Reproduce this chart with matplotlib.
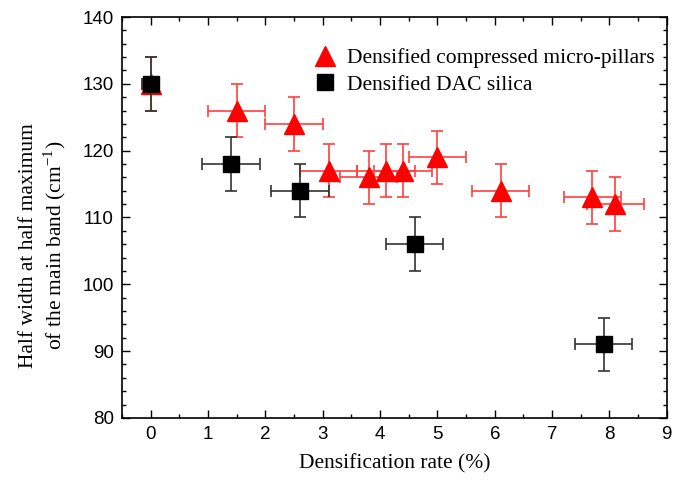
import matplotlib
matplotlib.use("Agg")
import matplotlib.pyplot as plt
from matplotlib.ticker import MultipleLocator

# Data
pillar_x = [0, 1.5, 2.5, 3.1, 3.8, 4.1, 4.4, 5.0, 6.1, 7.7, 8.1]
pillar_y = [130, 126, 124, 117, 116, 117, 117, 119, 114, 113, 112]
pillar_xerr = [0.15, 0.5, 0.5, 0.5, 0.5, 0.5, 0.5, 0.5, 0.5, 0.5, 0.5]
pillar_yerr = [4, 4, 4, 4, 4, 4, 4, 4, 4, 4, 4]

dac_x = [0, 1.4, 2.6, 4.6, 7.9]
dac_y = [130, 118, 114, 106, 91]
dac_xerr = [0.15, 0.5, 0.5, 0.5, 0.5]
dac_yerr = [4, 4, 4, 4, 4]

plt.rcParams['mathtext.fontset'] = 'stix'

fig = plt.figure(figsize=(6.86, 4.86), dpi=100)
ax = fig.add_axes([0.178, 0.14, 0.794, 0.825])

ax.errorbar(pillar_x, pillar_y, xerr=pillar_xerr, yerr=pillar_yerr, fmt='^',
            color='red', mec='red', ecolor=(1, 0.25, 0.25), elinewidth=1.2, capsize=4, capthick=1.2,
            markersize=15, label='Densified compressed micro-pillars', zorder=3)
ax.errorbar(dac_x, dac_y, xerr=dac_xerr, yerr=dac_yerr, fmt='s',
            color='black', mec='black', ecolor=(0.2, 0.2, 0.2), elinewidth=1.2, capsize=4, capthick=1.2,
            markersize=11, label='Densified DAC silica', zorder=4)

ax.set_xlim(-0.5, 9)
ax.set_ylim(80, 140)
ax.xaxis.set_major_locator(MultipleLocator(1))
ax.xaxis.set_minor_locator(MultipleLocator(0.5))
ax.yaxis.set_major_locator(MultipleLocator(10))
ax.yaxis.set_minor_locator(MultipleLocator(2))
ax.tick_params(which='both', direction='in', top=True, right=True)
ax.tick_params(which='major', length=6, width=1, labelsize=13.5, pad=6)
ax.tick_params(which='minor', length=3, width=1)
ax.tick_params(axis='both', which='both', labeltop=False, labelright=False)
for lab in ax.get_xticklabels() + ax.get_yticklabels():
    lab.set_fontfamily('Liberation Sans')
for s in ax.spines.values():
    s.set_linewidth(1.2)

ax.set_xlabel('Densification rate (%)', fontsize=15.5, fontfamily='Liberation Serif', labelpad=8)
ax.set_ylabel('Half width at half maximum\nof the main band (cm$^{\\mathregular{-1}}$)', fontsize=15.5,
              fontfamily='Liberation Serif', linespacing=1.15)
ax.yaxis.set_label_coords(-0.1, 0.43)

handles, labels = ax.get_legend_handles_labels()
handles = [h[0] for h in handles]
ax.legend(handles, labels, loc='upper right', frameon=False,
          prop={'family': 'Liberation Serif', 'size': 15.5}, handletextpad=0.5,
          bbox_to_anchor=(1.005, 0.96), borderaxespad=0.3, handlelength=1.0, labelspacing=0.3)

fig.savefig('out.png', dpi=100)
